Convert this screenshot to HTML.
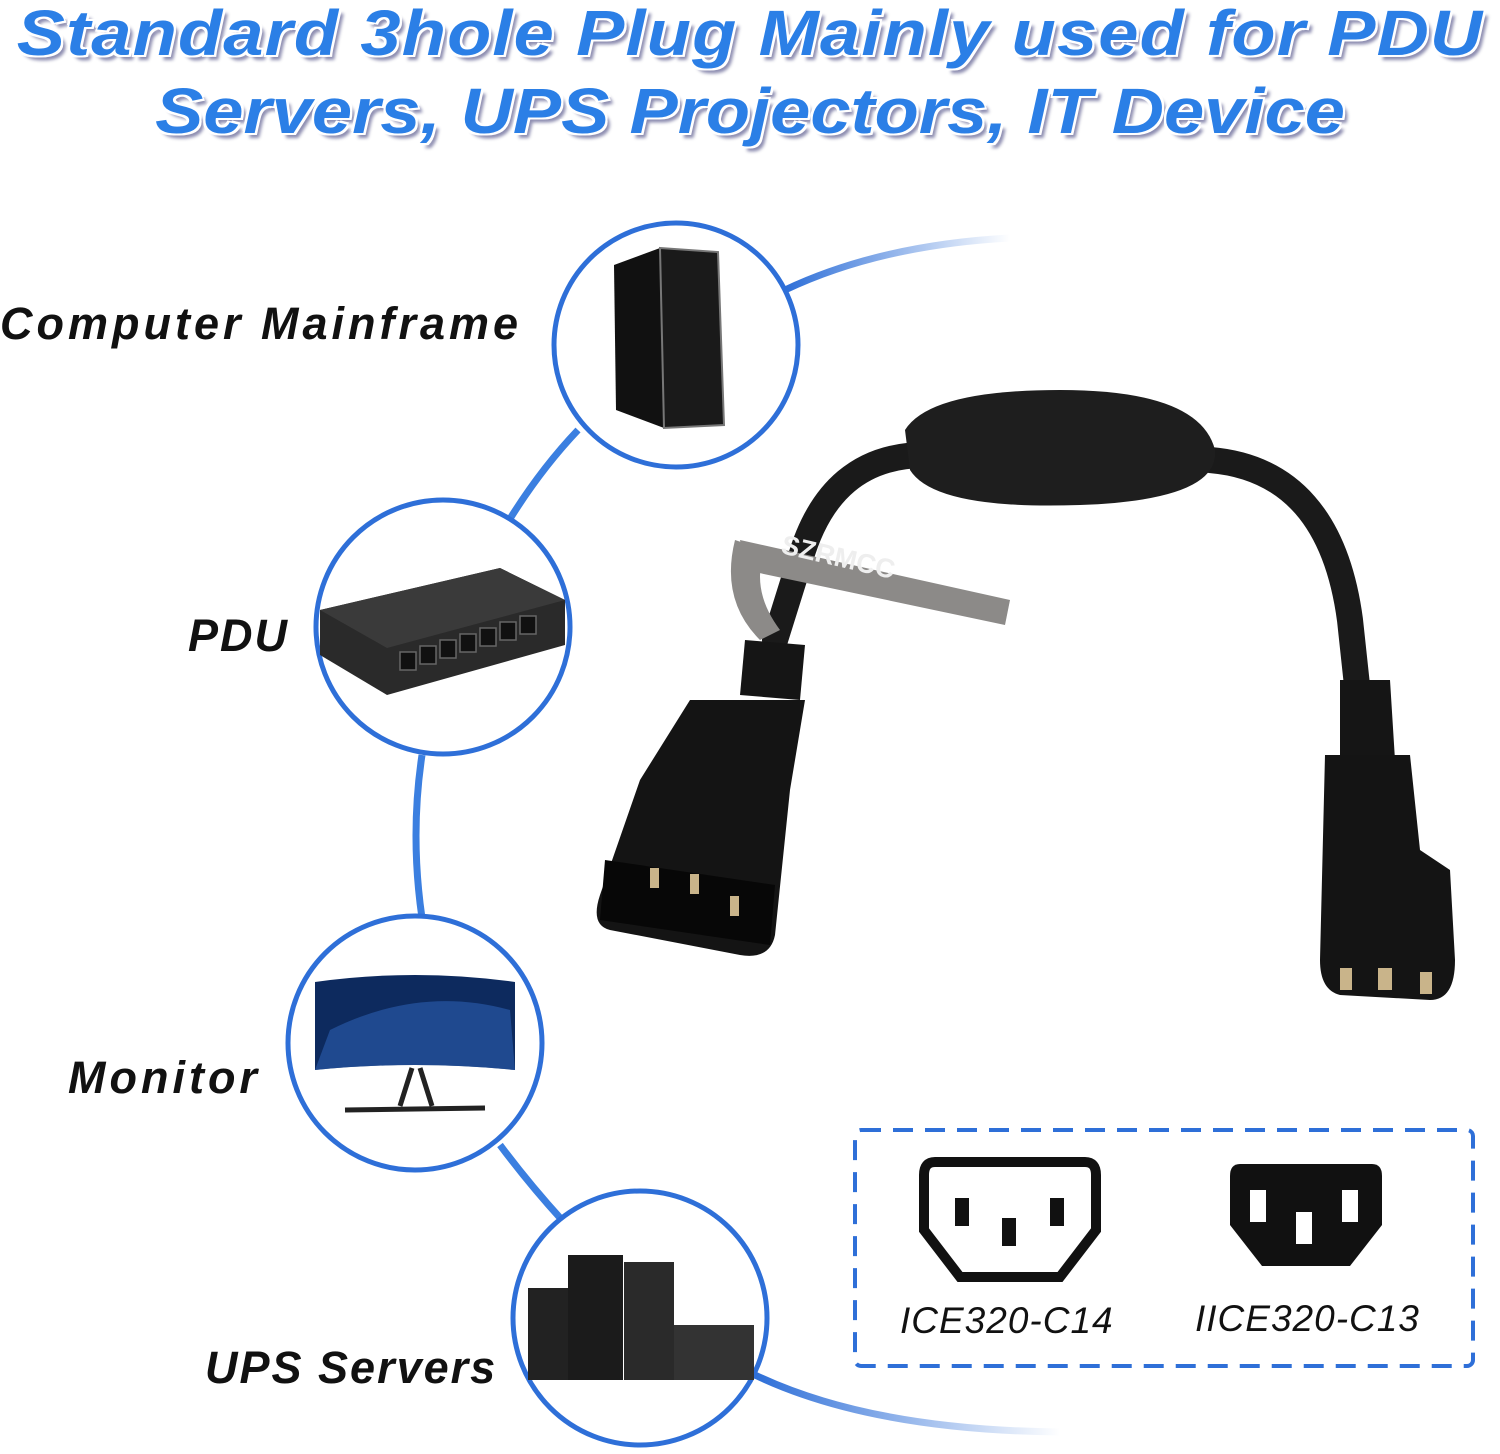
<!DOCTYPE html>
<html><head><meta charset="utf-8"><style>
html,body{margin:0;padding:0;background:#fff;}
body{width:1500px;height:1454px;position:relative;overflow:hidden;font-family:"Liberation Sans",sans-serif;}
.t{position:absolute;left:0;width:1500px;text-align:center;font-weight:bold;font-style:italic;color:#2b7fe6;font-size:64px;letter-spacing:1px;transform:scaleX(1.13);transform-origin:750px 0;
text-shadow:2px 2px 0 #fff,-2px -2px 0 #fff,2px -2px 0 #fff,-2px 2px 0 #fff,4px 5px 3px rgba(0,0,80,.45);}
.l{position:absolute;font-style:italic;font-weight:bold;color:#111;font-size:45px;white-space:nowrap;letter-spacing:2px}
.c{position:absolute;font-style:italic;color:#111;font-size:37px;white-space:nowrap;letter-spacing:1px}
</style></head><body>
<div class="t" style="top:-4px;">Standard 3hole Plug Mainly used for PDU</div>
<div class="t" style="top:74px;letter-spacing:0;">Servers, UPS Projectors, IT Device</div>

<svg width="1500" height="1454" style="position:absolute;left:0;top:0">
<defs>
<linearGradient id="g1" x1="0" x2="1"><stop offset="0" stop-color="#2e6fd8"/><stop offset="1" stop-color="#2e6fd8" stop-opacity="0"/></linearGradient>
</defs>
<path d="M785 290 Q880 245 1010 238" stroke="url(#g1)" stroke-width="7" fill="none"/>
<path d="M578 430 Q540 470 508 522" stroke="#3b7fe0" stroke-width="7" fill="none"/>
<path d="M422 755 Q410 835 422 918" stroke="#3b7fe0" stroke-width="7" fill="none"/>
<path d="M500 1145 Q530 1185 562 1220" stroke="#3b7fe0" stroke-width="7" fill="none"/>
<path d="M755 1375 Q870 1430 1060 1432" stroke="url(#g1)" stroke-width="7" fill="none"/>
<g fill="#fff" stroke="#2e6fd8" stroke-width="5">
<circle cx="676" cy="345" r="122"/>
<circle cx="443" cy="627" r="127"/>
<circle cx="415" cy="1043" r="127"/>
<circle cx="640" cy="1318" r="127"/>
</g>
<polygon points="614,265 660,248 718,252 724,425 664,428 616,410" fill="#111"/>
<polygon points="660,248 718,252 724,425 664,428" fill="#1a1a1a" stroke="#777" stroke-width="2"/>
<polygon points="320,610 500,568 565,600 565,645 387,695 320,655" fill="#2a2a2a"/>
<polygon points="320,610 500,568 565,600 387,648" fill="#3a3a3a"/>
<g fill="#111" stroke="#666" stroke-width="1.5">
<rect x="400" y="652" width="16" height="18"/><rect x="420" y="646" width="16" height="18"/><rect x="440" y="640" width="16" height="18"/><rect x="460" y="634" width="16" height="18"/><rect x="480" y="628" width="16" height="18"/><rect x="500" y="622" width="16" height="18"/><rect x="520" y="616" width="16" height="18"/>
</g>
<path d="M315 982 Q415 968 515 982 L515 1070 Q415 1060 315 1070 Z" fill="#0d2a5e"/>
<path d="M330 1030 Q420 985 510 1010 L515 1070 Q415 1060 315 1070 Z" fill="#2b5fb0" opacity=".6"/>
<path d="M412 1068 L400 1106 M420 1068 L432 1106" stroke="#222" stroke-width="5"/>
<path d="M345 1110 L485 1108" stroke="#222" stroke-width="5"/>
<rect x="528" y="1288" width="40" height="92" fill="#222"/>
<rect x="568" y="1255" width="55" height="125" fill="#1b1b1b"/>
<rect x="624" y="1262" width="50" height="118" fill="#2a2a2a"/>
<rect x="674" y="1325" width="80" height="55" fill="#333"/>
<g fill="none" stroke="#1a1a1a" stroke-linecap="round">
<path d="M925 455 Q830 455 800 560 L775 640" stroke-width="26"/>
<path d="M1210 460 Q1330 470 1350 620 L1365 760" stroke-width="26"/>
</g>
<path d="M905 430 Q930 390 1060 390 Q1200 390 1215 450 Q1220 500 1080 505 Q935 510 910 470 Z" fill="#1e1e1e"/>
<path d="M740 540 L1010 600 L1005 625 L745 570 Z" fill="#8c8a88"/>
<path d="M735 540 Q720 600 760 640 L780 630 Q750 590 765 550 Z" fill="#8c8a88"/>
<text x="780" y="553" fill="#eee" font-family="Liberation Sans" font-weight="bold" font-size="27" transform="rotate(13 780 553)">SZRMCC</text>
<path d="M745 640 L805 645 L800 700 L740 695 Z" fill="#151515"/>
<path d="M690 700 L805 700 L790 790 L775 935 Q770 960 740 955 L610 930 Q590 925 600 895 L640 780 Z" fill="#141414"/>
<path d="M605 860 L775 885 L770 945 L600 920 Z" fill="#070707"/>
<g fill="#c9b48a"><rect x="650" y="868" width="9" height="20"/><rect x="690" y="874" width="9" height="20"/><rect x="730" y="896" width="9" height="20"/></g>
<path d="M1340 680 L1390 680 L1395 760 L1340 760 Z" fill="#151515"/>
<path d="M1325 755 L1410 755 L1420 850 L1450 870 L1455 960 Q1455 1000 1430 1000 L1340 995 Q1320 990 1320 960 Z" fill="#141414"/>
<g fill="#c9b48a"><rect x="1340" y="968" width="12" height="22"/><rect x="1378" y="968" width="14" height="22"/><rect x="1420" y="972" width="12" height="22"/></g>
<rect x="855" y="1130" width="618" height="236" rx="6" fill="none" stroke="#2e6fd8" stroke-width="4" stroke-dasharray="20 12"/>
<path d="M935 1162 L1085 1162 Q1096 1162 1096 1175 L1096 1230 L1060 1277 L960 1277 L924 1230 L924 1175 Q924 1162 935 1162 Z" fill="#fff" stroke="#111" stroke-width="10"/>
<g fill="#111"><rect x="955" y="1198" width="14" height="28"/><rect x="1050" y="1198" width="14" height="28"/><rect x="1002" y="1218" width="14" height="28"/></g>
<path d="M1240 1164 L1372 1164 Q1382 1164 1382 1176 L1382 1225 L1350 1266 L1262 1266 L1230 1225 L1230 1176 Q1230 1164 1240 1164 Z" fill="#111"/>
<g fill="#fff"><rect x="1250" y="1190" width="16" height="32"/><rect x="1342" y="1190" width="16" height="32"/><rect x="1296" y="1212" width="16" height="32"/></g>
</svg>

<div class="l" style="left:0;top:298px;letter-spacing:4px;">Computer Mainframe</div>
<div class="l" style="left:188px;top:610px;">PDU</div>
<div class="l" style="left:68px;top:1052px;letter-spacing:4px;">Monitor</div>
<div class="l" style="left:205px;top:1342px;">UPS Servers</div>
<div class="c" style="left:900px;top:1300px;">ICE320-C14</div>
<div class="c" style="left:1195px;top:1298px;">IICE320-C13</div>
</body></html>
